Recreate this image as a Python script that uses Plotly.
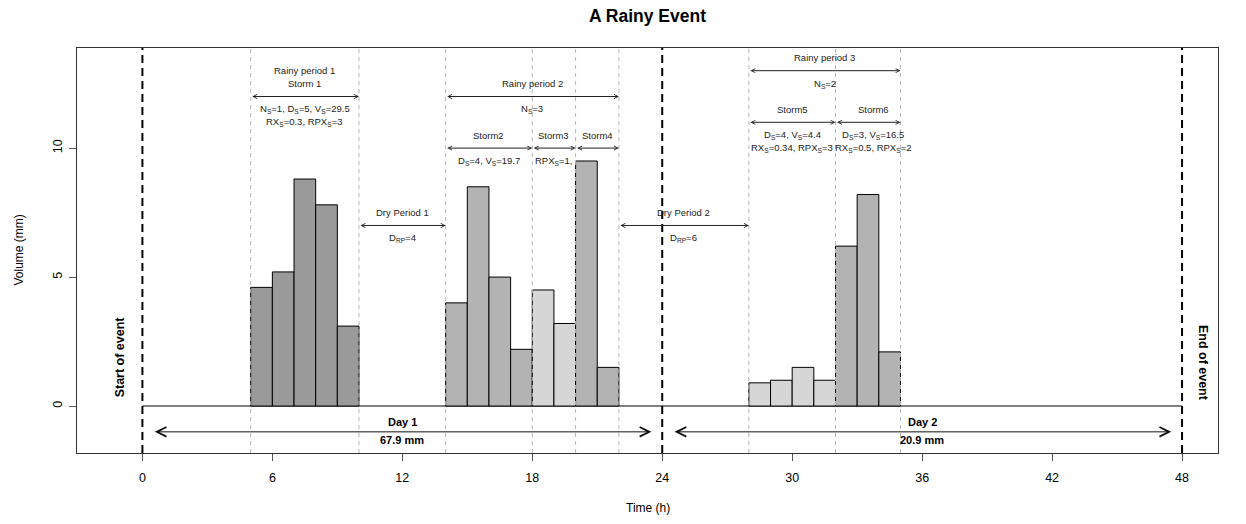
import plotly.graph_objects as go

# ---------------- data ----------------
storm1_hours = [5, 6, 7, 8, 9]
storm1_vol = [4.6, 5.2, 8.8, 7.8, 3.1]
storm2_hours = [14, 15, 16, 17]
storm2_vol = [4.0, 8.5, 5.0, 2.2]
storm3_hours = [18, 19]
storm3_vol = [4.5, 3.2]
storm4_hours = [20, 21]
storm4_vol = [9.5, 1.5]
storm5_hours = [28, 29, 30, 31]
storm5_vol = [0.9, 1.0, 1.5, 1.0]
storm6_hours = [32, 33, 34]
storm6_vol = [6.2, 8.2, 2.1]

storm_colors = ["#9a9a9a", "#b3b3b3", "#d6d6d6", "#b3b3b3", "#d6d6d6", "#b3b3b3"]

event_lines = [0, 24, 48]
boundary_lines = [5, 10, 14, 18, 20, 22, 28, 32, 35]
x_ticks = [0, 6, 12, 18, 24, 30, 36, 42, 48]
y_ticks = [0, 5, 10]

# small double arrows: (x0, x1, y)
small_arrows = [
    (5, 10, 12), (14, 22, 12), (14, 18, 10), (18, 20, 10), (20, 22, 10),
    (28, 35, 13), (28, 32, 11), (32, 35, 11), (10, 14, 7), (22, 28, 7),
]
day_arrows = [(0.5, 23.5, -1), (24.5, 47.5, -1)]

# labels: (x, y, text)
labels = [
    (7.5, 13, "Rainy period 1"),
    (7.5, 12.5, "Storm 1"),
    (7.5, 11.5, "N<sub>S</sub>=1, D<sub>S</sub>=5, V<sub>S</sub>=29.5"),
    (7.5, 11, "RX<sub>S</sub>=0.3, RPX<sub>S</sub>=3"),
    (18, 12.5, "Rainy period 2"),
    (18, 11.5, "N<sub>S</sub>=3"),
    (16, 10.5, "Storm2"),
    (19, 10.5, "Storm3"),
    (21, 10.5, "Storm4"),
    (16, 9.5, "D<sub>S</sub>=4, V<sub>S</sub>=19.7"),
    (19, 9.5, "RPX<sub>S</sub>=1,"),
    (31.5, 13.5, "Rainy period 3"),
    (31.5, 12.5, "N<sub>S</sub>=2"),
    (30, 11.5, "Storm5"),
    (33.75, 11.5, "Storm6"),
    (30, 10.5, "D<sub>S</sub>=4, V<sub>S</sub>=4.4"),
    (30, 10, "RX<sub>S</sub>=0.34, RPX<sub>S</sub>=3"),
    (33.75, 10.5, "D<sub>S</sub>=3, V<sub>S</sub>=16.5"),
    (33.75, 10, "RX<sub>S</sub>=0.5, RPX<sub>S</sub>=2"),
    (12, 7.5, "Dry Period 1"),
    (12, 6.5, "D<sub>RP</sub>=4"),
    (25, 7.5, "Dry Period 2"),
    (25, 6.5, "D<sub>RP</sub>=6"),
]
day_labels = [
    (12, -0.62, "Day 1"), (12, -1.33, "67.9 mm"),
    (36, -0.62, "Day 2"), (36, -1.33, "20.9 mm"),
]

FONT = "Liberation Sans, Arial, Helvetica, sans-serif"

fig = go.Figure()

storms = [
    (storm1_hours, storm1_vol), (storm2_hours, storm2_vol), (storm3_hours, storm3_vol),
    (storm4_hours, storm4_vol), (storm5_hours, storm5_vol), (storm6_hours, storm6_vol),
]
for (hrs, vol), col in zip(storms, storm_colors):
    fig.add_trace(go.Bar(
        x=hrs, y=vol, width=1, offset=0,
        marker=dict(color=col, line=dict(color="black", width=1)),
        showlegend=False, hoverinfo="skip",
    ))

# baseline at zero
fig.add_shape(type="line", x0=0, x1=48, y0=0, y1=0, xref="x", yref="y",
              line=dict(color="#555555", width=1.5), layer="below")

for xv in boundary_lines:
    fig.add_shape(type="line", x0=xv, x1=xv, y0=0, y1=1, xref="x", yref="paper",
                  line=dict(color="#b5b5b5", width=1, dash="4px,4px"), layer="above")
for xv in event_lines:
    fig.add_shape(type="line", x0=xv, x1=xv, y0=0, y1=1, xref="x", yref="paper",
                  line=dict(color="black", width=2, dash="8px,5px"), layer="above")

annotations = []
for x0, x1, yv in small_arrows:
    annotations.append(dict(
        x=x1, y=yv, ax=x0, ay=yv, xref="x", yref="y", axref="x", ayref="y",
        text="", showarrow=True, arrowside="end+start",
        arrowhead=5, startarrowhead=5, arrowsize=0.8, startarrowsize=0.8,
        arrowwidth=1, arrowcolor="#222222", standoff=0, startstandoff=0,
    ))
for x0, x1, yv in day_arrows:
    annotations.append(dict(
        x=x1, y=yv, ax=x0, ay=yv, xref="x", yref="y", axref="x", ayref="y",
        text="", showarrow=True, arrowside="end+start",
        arrowhead=5, startarrowhead=5, arrowsize=1.9, startarrowsize=1.9,
        arrowwidth=1, arrowcolor="#111111", standoff=0, startstandoff=0,
    ))
for xv, yv, t in labels:
    annotations.append(dict(x=xv, y=yv, xref="x", yref="y", text=t, showarrow=False,
                            font=dict(family=FONT, size=9.5, color="#222222"),
                            xanchor="center", yanchor="middle"))
for xv, yv, t in day_labels:
    annotations.append(dict(x=xv, y=yv, xref="x", yref="y", text="<b>" + t + "</b>",
                            showarrow=False, font=dict(family=FONT, size=11, color="black"),
                            xanchor="center", yanchor="middle"))
annotations.append(dict(x=-1.02, y=1.9, xref="x", yref="y", text="<b>Start of event</b>",
                        showarrow=False, textangle=-90,
                        font=dict(family=FONT, size=12.5, color="black")))
annotations.append(dict(x=48.97, y=1.67, xref="x", yref="y", text="<b>End of event</b>",
                        showarrow=False, textangle=90,
                        font=dict(family=FONT, size=12.5, color="black")))
# axis titles
annotations.append(dict(x=0, y=0.5, xref="paper", yref="paper", xshift=-68,
                        text="Volume (mm)", showarrow=False, textangle=-90,
                        font=dict(family=FONT, size=12, color="black")))
annotations.append(dict(x=0.5, y=0, xref="paper", yref="paper", yshift=-64,
                        text="Time (h)", showarrow=False,
                        font=dict(family=FONT, size=12, color="black")))

# page body has an 8px margin, so the figure is laid out 8px smaller
fig.update_layout(
    width=1238, height=516,
    margin=dict(l=69, r=28, t=40, b=71),
    paper_bgcolor="white", plot_bgcolor="white",
    barmode="overlay",
    title=dict(text="<b>A Rainy Event</b>", x=0.5, xref="paper", y=1 - 8 / 516,
               yref="container", yanchor="middle", xanchor="center",
               font=dict(family=FONT, size=17.5, color="black")),
    annotations=annotations,
    font=dict(family=FONT, size=12, color="black"),
)
fig.update_xaxes(range=[-3.02, 49.66], tickvals=x_ticks, ticktext=[str(v) for v in x_ticks],
                 showgrid=False, zeroline=False, showline=True, mirror=True,
                 linecolor="#333333", linewidth=1, ticks="outside", ticklen=7,
                 tickcolor="#555555", tickfont=dict(family=FONT, size=12.5, color="black"),
                 ticklabelstandoff=6)
fig.update_yaxes(range=[-1.82, 13.88], tickvals=y_ticks, ticktext=[str(v) for v in y_ticks],
                 showgrid=False, zeroline=False, showline=True, mirror=True,
                 linecolor="#333333", linewidth=1, ticks="outside", ticklen=7,
                 tickcolor="#555555", tickangle=-90,
                 tickfont=dict(family=FONT, size=12.5, color="black"),
                 ticklabelstandoff=2)

fig.write_html("out.html")
